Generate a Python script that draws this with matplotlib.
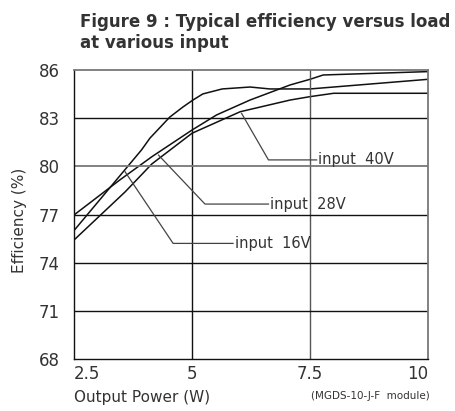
import matplotlib
matplotlib.use("Agg")
import matplotlib.pyplot as plt

# data
x16 = [2.5, 3.93, 4.11, 4.53, 4.81, 5.02, 5.23, 5.64, 6.23, 6.65, 7.5, 10.0]
y16 = [76.0, 81.02, 81.76, 83.07, 83.7, 84.13, 84.51, 84.82, 84.94, 84.82, 84.82, 85.42]
x28 = [2.5, 3.47, 4.15, 5.0, 5.52, 6.23, 7.08, 7.5, 7.78, 10.0]
y28 = [76.97, 79.15, 80.6, 82.26, 83.2, 84.13, 85.07, 85.42, 85.69, 85.9]
x40 = [2.5, 3.58, 4.15, 5.0, 6.02, 7.08, 7.5, 8.0, 10.0]
y40 = [75.41, 78.4, 80.15, 82.06, 83.4, 84.13, 84.34, 84.55, 84.55]

xticks = [2.5, 5, 7.5, 10]
xtick_labels = ["2.5", "5", "7.5", "10"]
yticks = [68, 71, 74, 77, 80, 83, 86]

labels = ["input  16V", "input  28V", "input  40V"]
# (curve point, elbow, end of horizontal)
leaders = [
    ((3.58, 79.67), (4.6, 75.2), 5.87),
    ((4.29, 80.7), (5.275, 77.65), 6.62),
    ((6.05, 83.3), (6.62, 80.4), 7.64),
]

fig = plt.figure(figsize=(4.55, 4.11), dpi=100)
ax = fig.add_axes([74/455, 1-359/411, (428-74)/455, (359-70)/411])

for xs, ys in [(x16, y16), (x28, y28), (x40, y40)]:
    ax.plot(xs, ys, color="#111111", lw=1.1)

ax.set_xlim(2.5, 10)
ax.set_ylim(68, 86)
ax.set_xticks(xticks)
ax.set_xticklabels(xtick_labels)
ax.set_yticks(yticks)
ax.tick_params(length=0, labelsize=12, colors="#333333", pad=4)
ax.tick_params(axis="y", pad=10)
xl = ax.get_xticklabels()
xl[0].set_ha("left")
xl[-1].set_ha("right")

for v in xticks[1:-1]:
    ax.axvline(v, color="#111111" if v == 5 else "#555555", lw=1.0)
for v in yticks[1:-1]:
    ax.axhline(v, color="#777777" if v == 80 else "#111111", lw=1.3 if v == 80 else 1.0)

for s in ["left", "bottom"]:
    ax.spines[s].set_color("#111111")
    ax.spines[s].set_linewidth(1.0)
for s in ["top", "right"]:
    ax.spines[s].set_color("#777777")
    ax.spines[s].set_linewidth(1.3)

for lab, (p, e, hx) in zip(labels, leaders):
    ax.plot([p[0], e[0], hx], [p[1], e[1], e[1]], color="#444444", lw=0.9)
    ax.text(hx + 0.04, e[1], lab, fontsize=10.5, color="#333333", va="center", ha="left")

fig.text(80/455, 1-22/411, "Figure 9 : Typical efficiency versus load", fontsize=12,
         fontweight="bold", color="#333333", va="center", ha="left")
fig.text(80/455, 1-43/411, "at various input", fontsize=12,
         fontweight="bold", color="#333333", va="center", ha="left")

fig.text(74/455, 1-397/411, "Output Power (W)", fontsize=11, color="#333333", va="center", ha="left")
fig.text(430/455, 1-396/411, "(MGDS-10-J-F  module)", fontsize=7.5, color="#333333", va="center", ha="right")
fig.text(20/455, 1-220/411, "Efficiency (%)", fontsize=11, color="#333333", va="center", ha="center", rotation=90)

fig.savefig("out.png", dpi=100)
